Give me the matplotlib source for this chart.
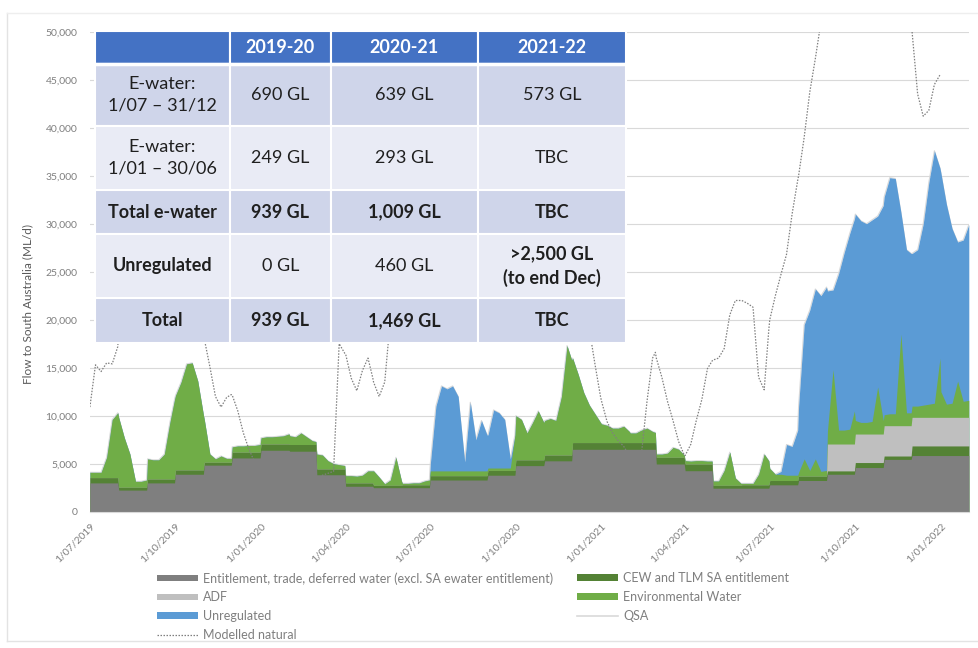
import numpy as np
import pandas as pd
import matplotlib
matplotlib.use('Agg')
import matplotlib.pyplot as plt
from matplotlib.patches import Rectangle, Patch
from matplotlib.lines import Line2D

plt.rcParams['font.family'] = ['Lato', 'DejaVu Sans']

# ---------------- DATA ----------------
# months Jul-2019 .. Jan-2022 ; values sampled on days 1, 7, 13, 19, 25 and last day of each month
month_starts = pd.date_range('2019-07-01', '2022-01-01', freq='MS')

# monthly (step) series, ML/d
entitlement_1920 = [3000, 2250, 3000, 3900, 4850, 5600, 6400, 6300, 3850, 2650, 2500, 2500]
entitlement_2021 = [3300, 3300, 3800, 4800, 5300, 6500, 6500, 6500, 4970, 4270, 2450, 2450]
entitlement_2122 = [2800, 3250, 3900, 4600, 5450, 5850, 5850]

cew_1920 = [550, 300, 400, 450, 300, 600, 650, 700, 600, 350, 250, 300]
cew_2021 = [450, 450, 500, 600, 600, 700, 700, 700, 700, 700, 300, 350]
cew_2122 = [450, 450, 350, 520, 350, 1000, 1000]

adf_1920 = [0] * 12
adf_2021 = [0] * 12
adf_2122 = [0, 0, 2800, 2970, 3160, 2980, 2980]

# environmental water (6 samples per month)
env_1920 = [
    [550, 550, 550, 2120, 6050, 6750],
    [7250, 5150, 3450, 610, 610, 750],
    [2100, 2000, 2000, 2600, 5900, 8300],
    [7750, 9150, 11050, 11150, 9250, 5750],
    [4450, 850, 350, 650, 400, 400],
    [550, 650, 650, 700, 700, 800],
    [650, 750, 750, 800, 850, 1050],
    [900, 800, 1200, 800, 400, 300],
    [1550, 1450, 850, 550, 450, 350],
    [750, 750, 700, 800, 1250, 1250],
    [1500, 850, 150, 550, 2910, 450],
    [150, 150, 200, 200, 400, 500],
]
env_2021 = [
    [500, 500, 500, 500, 500, 500],
    [500, 500, 500, 500, 500, 500],
    [250, 250, 250, 250, 250, 3700],
    [4600, 4200, 2800, 3900, 5100, 3900],
    [3600, 3800, 3600, 6100, 11400, 9900],
    [8800, 7100, 5200, 3900, 3000, 2100],
    [1950, 1800, 1500, 1500, 1700, 1150],
    [1000, 1000, 1300, 1500, 1150, 1050],
    [330, 330, 430, 1030, 830, 230],
    [350, 300, 350, 350, 300, 300],
    [450, 450, 1550, 3450, 750, 200],
    [150, 150, 150, 1100, 3200, 2500],
]
env_2122 = [
    [1250, 650, 650, 550, 550, 550],
    [400, 1800, 600, 1800, 500, 600],
    [1350, 7750, 1450, 1450, 1550, 3450],
    [1410, 1210, 1210, 1310, 4910, 1410],
    [1140, 1240, 1240, 9540, 1340, 1340],
    [1170, 1170, 1270, 1370, 1470, 6170],
    [2670, 1370, 1470, 3770, 1670, 1770],
]

# unregulated flow (6 samples per month)
unreg_1920 = [[0, 0, 0, 0, 0, 0]] * 12
unreg_2021 = [
    [750, 6750, 8850, 8550, 8850, 7750],
    [6750, 950, 7150, 3250, 5250, 3750],
    [3450, 6050, 5750, 5050, 950, 0],
] + [[0, 0, 0, 0, 0, 0]] * 9
unreg_2122 = [
    [0, 0, 300, 3200, 3000, 4700],
    [6900, 14000, 16700, 17700, 18300, 19100],
    [14600, 8300, 16300, 18500, 20400, 20000],
    [21500, 21000, 20700, 21000, 17800, 22400],
    [22700, 24600, 24500, 12700, 17000, 16600],
    [15900, 16300, 18900, 23100, 26300, 19800],
    [22800, 20800, 18200, 14500, 16800, 18300],
]

# modelled natural flow (6 samples per month)
natural_1920 = [
    [10900, 15300, 14600, 15500, 15400, 17200],
    [19000, 21000, 23000, 22000, 24000, 26000],
    [27000, 29000, 31000, 33000, 35000, 36000],
    [37000, 36000, 34000, 31000, 27000, 22000],
    [18000, 15100, 12000, 10900, 11900, 12200],
    [12150, 10500, 8200, 6500, 5200, 4300],
    [3900, 3200, 2700, 2400, 2350, 2700],
    [2900, 3500, 4000, 3800, 3300, 3100],
    [3200, 3800, 4000, 4200, 17500, 16500],
    [16400, 13900, 12600, 14700, 16000, 14000],
    [13500, 12000, 13500, 20000, 24000, 26000],
    [27000, 28000, 30000, 32000, 34000, 36000],
]
natural_2021 = [
    [38000, 40000, 42000, 40000, 38000, 36000],
    [35000, 34000, 33000, 34000, 35000, 36000],
    [37000, 38000, 40000, 42000, 44000, 45000],
    [46000, 45000, 44000, 42000, 40000, 38000],
    [36000, 34000, 32000, 30000, 29000, 28000],
    [24000, 23000, 21500, 19000, 15400, 12000],
    [11560, 9400, 8200, 7400, 6800, 5800],
    [5400, 5050, 6000, 11500, 16000, 16600],
    [16000, 14000, 11500, 9480, 7300, 5900],
    [5850, 7000, 9500, 11700, 14900, 15700],
    [15800, 16000, 17000, 20500, 22000, 22000],
    [22000, 21700, 21300, 14000, 12700, 19000],
]
natural_2122 = [
    [20000, 22500, 24700, 26800, 31000, 34500],
    [35000, 39000, 43700, 47200, 51000, 56000],
    [60000, 65000, 70000, 72000, 75000, 78000],
    [80000, 82000, 80000, 78000, 75000, 72000],
    [70000, 68000, 65000, 62000, 58000, 54000],
    [50000, 43500, 41200, 41800, 44500, 45500],
    [np.nan] * 6,
]

# table content
table_header = ['', '2019-20', '2020-21', '2021-22']
table_rows = ['E-water:\n1/07 \u2013 31/12', 'E-water:\n1/01 \u2013 30/06', 'Total e-water', 'Unregulated', 'Total']
table_values = [
    ['690 GL', '639 GL', '573 GL'],
    ['249 GL', '293 GL', 'TBC'],
    ['939 GL', '1,009 GL', 'TBC'],
    ['0 GL', '460 GL', '>2,500 GL\n(to end Dec)'],
    ['939 GL', '1,469 GL', 'TBC'],
]
table_bold_rows = [False, False, True, True, True]
table_bold_values = [
    [False, False, False],
    [False, False, False],
    [True, True, True],
    [False, False, True],
    [True, True, True],
]

# ---------------- BUILD SERIES ----------------
day_offsets = [0, 6, 12, 18, 24]
dates = []
for m in month_starts:
    for o in day_offsets:
        dates.append(m + pd.Timedelta(days=o))
    dates.append(m + pd.offsets.MonthEnd(0))
dates = pd.DatetimeIndex(dates)
per_month = 6

ent = np.repeat(np.array(entitlement_1920 + entitlement_2021 + entitlement_2122, float), per_month)
cew = np.repeat(np.array(cew_1920 + cew_2021 + cew_2122, float), per_month)
adf = np.repeat(np.array(adf_1920 + adf_2021 + adf_2122, float), per_month)
env = np.array(env_1920 + env_2021 + env_2122, float).ravel()
unreg = np.array(unreg_1920 + unreg_2021 + unreg_2122, float).ravel()
natural = np.array(natural_1920 + natural_2021 + natural_2122, float).ravel()

y1 = ent
y2 = y1 + cew
y3 = y2 + adf
y4 = y3 + env
y5 = y4 + unreg
qsa = y5

# ---------------- FIGURE ----------------
W, H = 979, 648
fig = plt.figure(figsize=(W / 100, H / 100), dpi=100)
fig.patch.set_facecolor('white')

ax = fig.add_axes([89.9 / W, 1 - 511.7 / H, (968.8 - 89.9) / W, (511.7 - 31.7) / H])

c_ent = '#7f7f7f'
c_cew = '#548235'
c_adf = '#bfbfbf'
c_env = '#70ad47'
c_unreg = '#5b9bd5'
c_qsa = '#d9d9d9'
c_nat = '#7f7f7f'

ax.plot(dates, qsa, color=c_qsa, lw=0.8, zorder=1)
ax.fill_between(dates, 0, y5, color=c_unreg, lw=0, zorder=2)
ax.fill_between(dates, 0, y4, color=c_env, lw=0, zorder=2)
ax.fill_between(dates, 0, y3, color=c_adf, lw=0, zorder=2)
ax.fill_between(dates, 0, y2, color=c_cew, lw=0, zorder=2)
ax.fill_between(dates, 0, y1, color=c_ent, lw=0, zorder=2)
ax.plot(dates, natural, color=c_nat, lw=0.9, ls=(0, (1.2, 1.2)), zorder=4)

ax.set_xlim(dates[0], dates[-1])
ax.set_ylim(0, 50000)
for s in ['top', 'right', 'left']:
    ax.spines[s].set_visible(False)
ax.spines['bottom'].set_color('#d9d9d9')
ax.yaxis.grid(True, color='#d9d9d9', lw=0.8)
ax.set_axisbelow(True)

yt = np.arange(0, 50001, 5000)
ax.set_yticks(yt)
ax.set_yticklabels([f'{v:,}' for v in yt])
tick_dates = pd.date_range('2019-07-01', '2022-01-01', freq='QS')
ax.set_xticks(tick_dates)
ax.set_xticklabels([f'{d.day}/{d.month:02d}/{d.year}' for d in tick_dates],
                   rotation=45, ha='right', rotation_mode='anchor')
ax.tick_params(axis='both', length=0, labelsize=7.5, labelcolor='#7f7f7f')
ax.tick_params(axis='y', pad=9)
ax.tick_params(axis='x', pad=7)

fig.text(28 / W, 1 - 304 / H, 'Flow to South Australia (ML/d)', rotation=90,
         ha='center', va='center', fontsize=8.5, color='#595959')

# ---------------- TABLE (overlay in pixel coords) ----------------
tx = fig.add_axes([0, 0, 1, 1])
tx.set_xlim(0, W)
tx.set_ylim(H, 0)
tx.axis('off')
tx.patch.set_visible(False)

col_x = [95, 230, 331, 478, 626]
row_y = [31, 64, 126, 190, 234, 298, 343]
row_colors = ['#4472c4', '#cfd5ea', '#e9ebf5', '#cfd5ea', '#e9ebf5', '#cfd5ea']
txt_col = '#1f1f1f'
for r in range(6):
    for c in range(4):
        x0, x1 = col_x[c], col_x[c + 1]
        y0, y1_ = row_y[r], row_y[r + 1]
        tx.add_patch(Rectangle((x0, y0), x1 - x0, y1_ - y0, facecolor=row_colors[r],
                               edgecolor='white', lw=1.5, zorder=5))
        cx, cy = (x0 + x1) / 2, (y0 + y1_) / 2
        if r == 0:
            s = table_header[c]
            if s:
                tx.text(cx, cy, s, ha='center', va='center', fontsize=13,
                        fontweight='bold', color='white', zorder=6)
        else:
            if c == 0:
                s = table_rows[r - 1]
                bold = table_bold_rows[r - 1]
            else:
                s = table_values[r - 1][c - 1]
                bold = table_bold_values[r - 1][c - 1]
            tx.text(cx, cy, s, ha='center', va='center', fontsize=13, linespacing=1.4,
                    fontweight='bold' if bold else 'normal', color=txt_col, zorder=6)
tx.plot([col_x[0], col_x[-1]], [row_y[1], row_y[1]], color='white', lw=2.5, zorder=5.5)

# light frame of the slide object
tx.plot([7.5, 7.5], [13, 641], color='#e3e3e3', lw=1)
tx.plot([7.5, 979], [13, 13], color='#eeeeee', lw=1)
tx.plot([7.5, 979], [641, 641], color='#e3e3e3', lw=1)

# ---------------- LEGEND ----------------
nat_handle = Line2D([], [], color=c_nat, lw=0.9, ls=(0, (1.2, 1.2)))
qsa_handle = Line2D([], [], color=c_qsa, lw=1.2)
left_h = [Patch(facecolor=c_ent), Patch(facecolor=c_adf), Patch(facecolor=c_unreg), nat_handle]
left_l = ['Entitlement, trade, deferred water (excl. SA ewater entitlement)', 'ADF',
          'Unregulated', 'Modelled natural']
right_h = [Patch(facecolor=c_cew), Patch(facecolor=c_env), qsa_handle]
right_l = ['CEW and TLM SA entitlement', 'Environmental Water', 'QSA']

leg_kw = dict(loc='upper left', frameon=False, fontsize=9.0, labelcolor='#7f7f7f',
              handlelength=3.3, handleheight=0.45, handletextpad=0.4,
              labelspacing=0.55, borderpad=0, borderaxespad=0)
fig.legend(left_h, left_l, bbox_to_anchor=(157 / W, 1 - 572 / H), **leg_kw)
fig.legend(right_h, right_l, bbox_to_anchor=(577 / W, 1 - 572 / H), **leg_kw)

fig.savefig('out.png', dpi=100)
